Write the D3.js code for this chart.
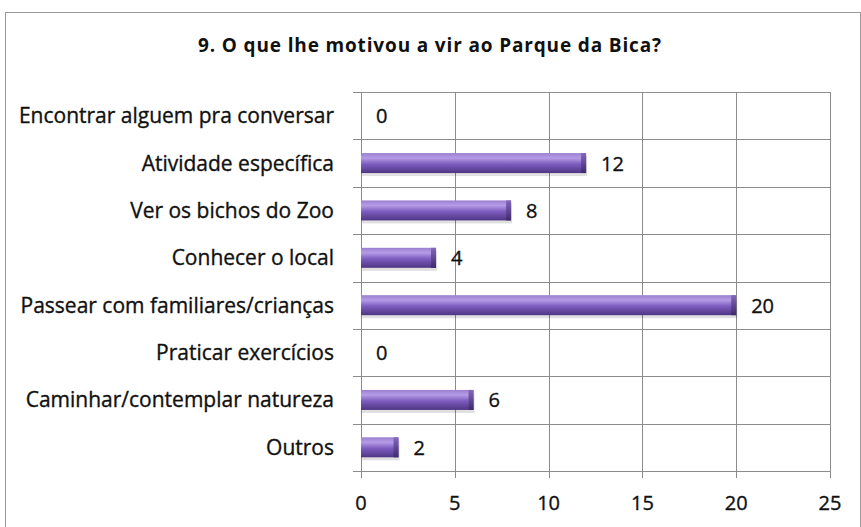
<!DOCTYPE html>
<html>
<head>
<meta charset="utf-8">
<script src="https://cdn.jsdelivr.net/npm/d3@7"></script>
<style>
  body { margin: 0; background: #fff; }
  text { font-family: "Open Sans", "Lato", sans-serif; fill: #111; }
  .reg { stroke: #111; stroke-width: 0.35px; }
</style>
</head>
<body>
<div id="chart"></div>
<script>
var categories = ['Encontrar alguem pra conversar', 'Atividade específica', 'Ver os bichos do Zoo',
  'Conhecer o local', 'Passear com familiares/crianças', 'Praticar exercícios',
  'Caminhar/contemplar natureza', 'Outros'];
var values = [0, 12, 8, 4, 20, 0, 6, 2];
var xTicks = [0, 5, 10, 15, 20, 25];
var title = '9. O que lhe motivou a vir ao Parque da Bica?';

var W = 861, H = 527;
var margin = { top: 92, right: 31, bottom: 56, left: 361 };
var width = W - margin.left - margin.right;
var height = H - margin.top - margin.bottom;

var svg = d3.select('#chart').append('svg')
  .attr('width', W)
  .attr('height', H);

// outer frame
svg.append('rect')
  .attr('x', 5.5).attr('y', 12.5)
  .attr('width', W - 6).attr('height', H)
  .attr('fill', '#fff').attr('stroke', '#9a9a9a');

svg.append('text')
  .attr('x', 430).attr('y', 52)
  .attr('text-anchor', 'middle')
  .style('font-size', '19px').style('font-weight', 'bold')
  .style('letter-spacing', '0.85px')
  .text(title);

var defs = svg.append('defs');
var grad = defs.append('linearGradient').attr('id', 'barGrad')
  .attr('x1', 0).attr('y1', 0).attr('x2', 0).attr('y2', 1);
grad.append('stop').attr('offset', '0%').attr('stop-color', '#9a7fd0');
grad.append('stop').attr('offset', '25%').attr('stop-color', '#b59ce6');
grad.append('stop').attr('offset', '55%').attr('stop-color', '#7d5cbf');
grad.append('stop').attr('offset', '100%').attr('stop-color', '#4f3584');

var endGrad = defs.append('linearGradient').attr('id', 'endGrad')
  .attr('x1', 0).attr('y1', 0).attr('x2', 0).attr('y2', 1);
endGrad.append('stop').attr('offset', '0%').attr('stop-color', '#8468bb');
endGrad.append('stop').attr('offset', '100%').attr('stop-color', '#3f2a6c');

var g = svg.append('g')
  .attr('transform', 'translate(' + margin.left + ',' + margin.top + ')');

var x = d3.scaleLinear().domain([0, 25]).range([0, width]);
var y = d3.scaleBand().domain(categories).range([0, height]);

// vertical gridlines
g.selectAll('.vgrid').data(xTicks).enter().append('line')
  .attr('x1', function (d) { return Math.round(x(d)) + 0.5; })
  .attr('x2', function (d) { return Math.round(x(d)) + 0.5; })
  .attr('y1', 0).attr('y2', height + 7)
  .attr('stroke', '#8c8c8c');

// horizontal lines between categories
var bounds = categories.map(function (c) { return y(c); }).concat([height]);
g.selectAll('.hgrid').data(bounds).enter().append('line')
  .attr('x1', -8).attr('x2', width)
  .attr('y1', function (d) { return Math.round(d) + 0.5; })
  .attr('y2', function (d) { return Math.round(d) + 0.5; })
  .attr('stroke', '#8c8c8c');

var barH = 20;
var bars = g.selectAll('.bar').data(values).enter().append('g')
  .attr('transform', function (d, i) {
    return 'translate(0,' + (y(categories[i]) + y.bandwidth() / 2 - barH / 2) + ')';
  });

// soft shadow
bars.filter(function (d) { return d > 0; }).append('rect')
  .attr('x', 1).attr('y', 3)
  .attr('width', function (d) { return x(d); })
  .attr('height', barH)
  .attr('fill', '#000').attr('opacity', 0.12);

bars.filter(function (d) { return d > 0; }).append('rect')
  .attr('x', 0).attr('y', 0)
  .attr('width', function (d) { return x(d); })
  .attr('height', barH)
  .attr('fill', 'url(#barGrad)');

bars.filter(function (d) { return d > 0; }).append('rect')
  .attr('x', function (d) { return x(d) - 5; }).attr('y', 0)
  .attr('width', 5).attr('height', barH)
  .attr('fill', 'url(#endGrad)');

bars.append('text')
  .attr('class', 'reg')
  .attr('x', function (d) { return x(d) + 15; })
  .attr('y', barH / 2 + 7.5)
  .style('font-size', '20px')
  .text(function (d) { return d; });

// category labels
g.selectAll('.cat').data(categories).enter().append('text')
  .attr('class', 'reg')
  .attr('x', -27)
  .attr('y', function (c) { return y(c) + y.bandwidth() / 2 + 7.5; })
  .attr('text-anchor', 'end')
  .style('font-size', '21px')
  .text(function (c) { return c; });

// x tick labels
g.selectAll('.xt').data(xTicks).enter().append('text')
  .attr('class', 'reg')
  .attr('x', function (d) { return x(d); })
  .attr('y', height + 39)
  .attr('text-anchor', 'middle')
  .style('font-size', '20px')
  .text(function (d) { return d; });
</script>
</body>
</html>
